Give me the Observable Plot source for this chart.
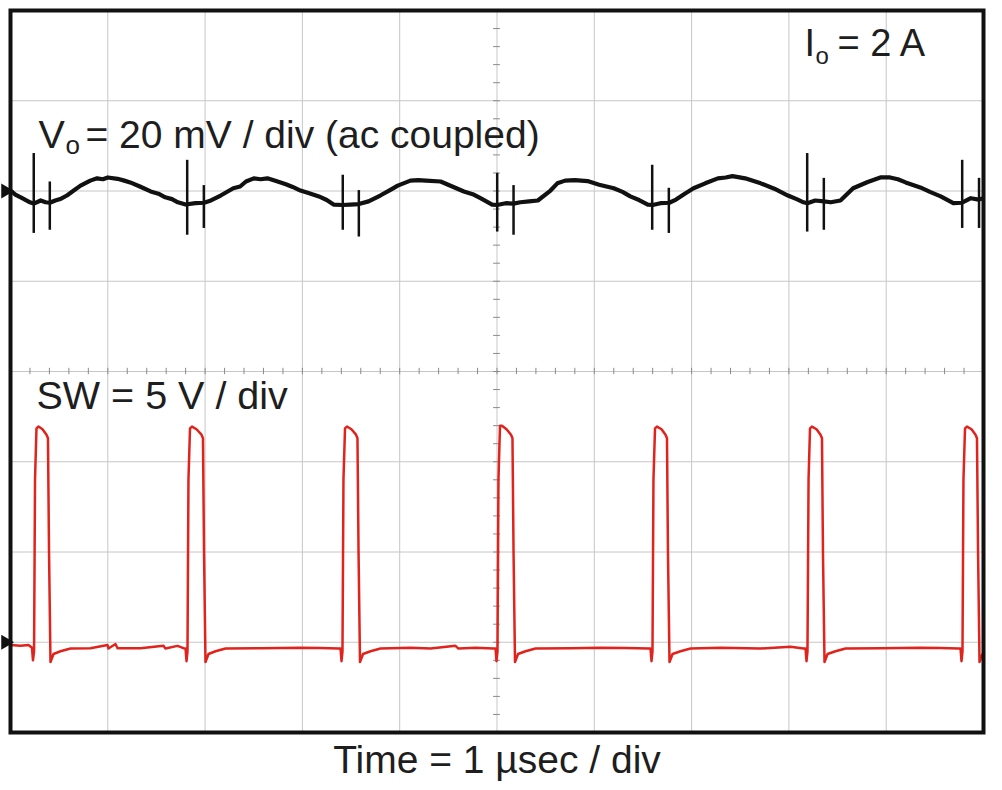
<!DOCTYPE html>
<html>
<head>
<meta charset="utf-8">
<script src="https://cdn.jsdelivr.net/npm/d3@7"></script>
<script src="https://cdn.jsdelivr.net/npm/@observablehq/plot@0.6"></script>
<style>
  html, body { margin: 0; padding: 0; background: #fff; }
</style>
</head>
<body>
<div id="chart"></div>
<script>
// ---- Data (time in µs, Vo in mV ac-coupled, SW in V) ----
const voOffsetDiv = 2;      // Vo ground marker (divisions from centre)
const swOffsetDiv = -3;     // SW ground marker (divisions from centre)
const voScale = 20;         // mV per division
const swScale = 5;          // V per division

const voTrace = [
  [0,0.1],[0.05,-0.8],[0.12,-1.6],[0.2,-2.5],[0.239,-2.8],[0.31,-2.1],[0.36,-2.5],[0.404,-2.6],
  [0.46,-2.1],[0.52,-1.7],[0.58,-1.0],[0.65,0.1],[0.72,1.2],[0.82,2.3],[0.89,2.8],[0.95,2.6],
  [1.0,3.0],[1.1,2.7],[1.17,2.3],[1.23,1.9],[1.33,1.0],[1.44,-0.1],[1.52,-0.6],[1.59,-1.4],
  [1.66,-1.8],[1.72,-2.5],[1.8,-3.0],[1.9,-2.7],[1.99,-2.6],[2.06,-2.1],[2.16,-1.0],[2.29,0.6],
  [2.36,1.0],[2.42,2.1],[2.5,2.8],[2.57,2.6],[2.64,2.8],[2.73,2.2],[2.83,1.5],[2.9,0.9],
  [2.98,0.1],[3.07,-0.5],[3.17,-1.2],[3.25,-2.0],[3.32,-3.0],[3.415,-3.1],[3.49,-3.0],[3.58,-2.9],
  [3.68,-2.3],[3.8,-1.0],[3.9,0.2],[3.98,1.2],[4.11,2.3],[4.19,2.4],[4.27,2.3],[4.42,2.1],
  [4.54,1.0],[4.66,-0.1],[4.75,-0.7],[4.83,-1.6],[4.95,-3.0],[5.0,-3.1],[5.09,-2.7],[5.17,-2.8],
  [5.24,-2.5],[5.33,-2.3],[5.42,-2.1],[5.55,0.1],[5.62,1.7],[5.7,2.3],[5.8,2.4],[5.93,2.2],
  [6.05,1.4],[6.2,0.6],[6.29,-0.2],[6.37,-1.2],[6.46,-2.0],[6.55,-3.0],[6.6,-3.1],[6.68,-2.7],
  [6.77,-2.6],[6.84,-1.9],[6.93,-0.6],[7.02,0.6],[7.14,1.7],[7.27,2.8],[7.35,3.0],[7.42,3.3],
  [7.55,2.8],[7.71,1.7],[7.85,0.5],[7.99,-1.0],[8.08,-1.8],[8.15,-2.5],[8.19,-2.7],[8.27,-2.1],
  [8.36,-2.3],[8.43,-2.5],[8.53,-2.1],[8.66,0.6],[8.81,2.0],[8.94,3.0],[9.04,3.0],[9.12,2.6],
  [9.2,1.9],[9.35,0.8],[9.45,-0.2],[9.56,-1.2],[9.69,-2.7],[9.78,-2.6],[9.87,-1.6],[9.95,-1.9],
  [10,-1.6]
];

const voSpikeTime   = [0.239, 0.404, 1.816, 1.987, 3.415, 3.580, 5.002, 5.170, 6.595, 6.766, 8.188, 8.359, 9.781, 9.954];
const voSpikeTop    = [8.3, 2.0, 6.8, 1.2, 3.5, 0.1, 3.9, 1.2, 5.7, 0.6, 8.3, 2.8, 6.8, 2.8];
const voSpikeBottom = [-9.4, -8.7, -9.8, -8.3, -8.7, -10.2, -9.1, -9.8, -8.7, -9.4, -9.1, -8.7, -8.3, -8.3];

const swTrace = [
  [0,-0.15],[0.103,-0.2],[0.185,-0.15],[0.221,-0.3],[0.231,-1.0],[0.242,-0.5],[0.252,9.0],[0.267,11.85],
  [0.288,11.95],[0.329,11.8],[0.370,11.5],[0.385,11.3],[0.396,5.0],[0.411,-1.1],[0.442,-0.65],[0.514,-0.5],
  [0.617,-0.35],[0.822,-0.33],[0.997,-0.15],[1.007,-0.35],[1.079,-0.1],[1.100,-0.33],[1.336,-0.33],[1.572,-0.2],
  [1.593,-0.35],[1.716,-0.2],[1.778,-0.33],
  [1.799,-0.35],[1.809,-1.05],[1.819,-0.5],[1.829,9.0],[1.845,11.85],[1.865,11.95],[1.912,11.8],[1.963,11.5],
  [1.978,11.3],[1.989,5.0],[2.004,-1.1],[2.035,-0.65],[2.107,-0.5],[2.210,-0.35],[2.569,-0.33],[2.981,-0.3],
  [3.186,-0.32],[3.371,-0.35],
  [3.392,-0.35],[3.402,-1.05],[3.412,-0.5],[3.422,9.0],[3.438,11.85],[3.458,11.95],[3.504,11.8],[3.551,11.5],
  [3.566,11.3],[3.577,5.0],[3.592,-1.1],[3.623,-0.65],[3.700,-0.5],[3.803,-0.35],[4.111,-0.3],[4.317,-0.35],
  [4.573,-0.2],[4.604,-0.35],[4.779,-0.3],[4.964,-0.35],
  [4.985,-0.35],[4.995,-1.05],[5.005,-0.5],[5.015,9.0],[5.031,12.0],[5.051,12.0],[5.098,11.8],[5.144,11.5],
  [5.159,11.3],[5.170,5.0],[5.185,-1.1],[5.216,-0.65],[5.293,-0.5],[5.396,-0.35],[5.755,-0.33],[6.064,-0.3],
  [6.321,-0.32],[6.557,-0.35],
  [6.578,-0.35],[6.588,-1.05],[6.598,-0.5],[6.608,9.0],[6.624,11.85],[6.644,11.95],[6.691,11.8],[6.732,11.5],
  [6.747,11.3],[6.757,5.0],[6.773,-1.1],[6.804,-0.65],[6.886,-0.5],[6.989,-0.35],[7.297,-0.3],[7.708,-0.35],
  [8.016,-0.25],[8.150,-0.35],
  [8.171,-0.35],[8.181,-1.05],[8.191,-0.5],[8.202,9.0],[8.217,11.85],[8.237,11.95],[8.284,11.8],[8.325,11.5],
  [8.340,11.3],[8.350,5.0],[8.366,-1.1],[8.397,-0.65],[8.479,-0.5],[8.582,-0.35],[8.941,-0.33],[9.353,-0.3],
  [9.558,-0.32],[9.743,-0.35],
  [9.764,-0.35],[9.774,-1.05],[9.784,-0.5],[9.794,9.0],[9.810,11.85],[9.830,11.95],[9.877,11.8],[9.918,11.5],
  [9.933,11.3],[9.944,5.0],[9.959,-1.1],[9.990,-0.65],[10,-0.6]
];

// Graticule: 10 x 8 divisions
const xDivisions = [0,1,2,3,4,5,6,7,8,9,10];
const yDivisions = [-4,-3,-2,-1,0,1,2,3,4];
const groundMarkers = [voOffsetDiv, swOffsetDiv];

// ---- Derived tables for the library ----
const voData = voTrace.map(([t, mv]) => ({t, y: voOffsetDiv + mv / voScale}));
const swData = swTrace.map(([t, v]) => ({t, y: swOffsetDiv + v / swScale}));
const spikes = voSpikeTime.map((t, i) => ({
  t, y1: voOffsetDiv + voSpikeTop[i] / voScale, y2: voOffsetDiv + voSpikeBottom[i] / voScale
}));
const minorX = d3.range(0, 10.001, 0.2);
const minorY = d3.range(-4, 4.001, 0.2);

const font = "'Liberation Sans', Arial, Helvetica, sans-serif";
const ink = "#1e1e1e";

const chart = Plot.plot({
  width: 1002,
  height: 790,
  marginLeft: 10,
  marginRight: 19,
  marginTop: 10,
  marginBottom: 58,
  style: {background: "#fff", fontFamily: font, overflow: "visible"},
  x: {domain: [0, 10], axis: null},
  y: {domain: [-4, 4], axis: null},
  marks: [
    Plot.ruleX(xDivisions.slice(1, -1), {stroke: "#c6c6c6", strokeWidth: 1}),
    Plot.ruleY(yDivisions.slice(1, -1), {stroke: "#c6c6c6", strokeWidth: 1}),
    // minor ticks on centre lines
    Plot.ruleY(minorY, {x1: 4.965, x2: 5.035, stroke: "#8a8a8a", strokeWidth: 1}),
    Plot.ruleX(minorX, {y1: -0.035, y2: 0.035, stroke: "#8a8a8a", strokeWidth: 1}),
    // SW trace
    Plot.line(swData, {x: "t", y: "y", stroke: "#e0231c", strokeWidth: 2.5, strokeLinejoin: "round", clip: true}),
    // Vo trace
    Plot.line(voData, {x: "t", y: "y", stroke: "#111", strokeWidth: 4.2, strokeLinejoin: "round", clip: true}),
    Plot.ruleX(spikes, {x: "t", y1: "y1", y2: "y2", stroke: "#111", strokeWidth: 2.5, clip: true}),
    // frame
    Plot.frame({stroke: "#111", strokeWidth: 4}),
    // ground markers
    Plot.dot(groundMarkers, {x: 0, y: d => d, symbol: "triangle", rotate: 90, r: 5.5, fill: "#111", stroke: "none", dx: -5}),
    // annotations
    Plot.text(["V"], {frameAnchor: "top-left", textAnchor: "start", lineAnchor: "bottom", dx: 28, dy: 137, fontSize: 39.5, fill: ink}),
    Plot.text(["o"], {frameAnchor: "top-left", textAnchor: "start", lineAnchor: "bottom", dx: 55, dy: 143, fontSize: 26, fill: ink}),
    Plot.text(["= 20 mV / div (ac coupled)"], {frameAnchor: "top-left", textAnchor: "start", lineAnchor: "bottom", dx: 75, dy: 137, fontSize: 39, fill: ink}),
    Plot.text(["I"], {frameAnchor: "top-left", textAnchor: "start", lineAnchor: "bottom", dx: 794, dy: 45, fontSize: 38, fill: ink}),
    Plot.text(["o"], {frameAnchor: "top-left", textAnchor: "start", lineAnchor: "bottom", dx: 805, dy: 53, fontSize: 24, fill: ink}),
    Plot.text(["= 2 A"], {frameAnchor: "top-left", textAnchor: "start", lineAnchor: "bottom", dx: 827, dy: 45, fontSize: 38, fill: ink}),
    Plot.text(["SW = 5 V / div"], {frameAnchor: "top-left", textAnchor: "start", lineAnchor: "bottom", dx: 26, dy: 398, fontSize: 39.5, fill: ink}),
    Plot.text(["Time = 1 µsec / div"], {frameAnchor: "bottom", textAnchor: "middle", lineAnchor: "bottom", dy: 40, fontSize: 39, fill: ink})
  ]
});

document.getElementById("chart").appendChild(chart);
</script>
</body>
</html>
